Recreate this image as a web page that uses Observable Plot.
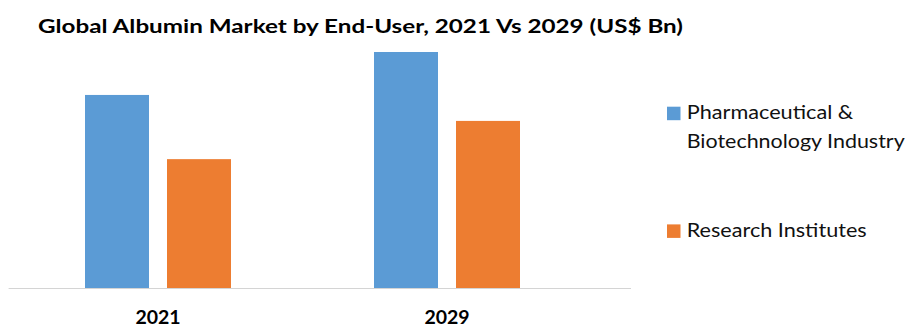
<!DOCTYPE html>
<html><head><meta charset="utf-8">
<script src="https://cdn.jsdelivr.net/npm/d3@7"></script>
<script src="https://cdn.jsdelivr.net/npm/@observablehq/plot@0.6"></script>
<style>
body{margin:0;background:#fff;}
#wrap{position:relative;width:908px;height:327px;overflow:hidden;background:#fff;}
#wrap svg{position:absolute;left:0;top:0;}
</style>
</head><body>
<div id="wrap"></div>
<script>
const years = ["2021", "2029"];
const series = ["Pharmaceutical & Biotechnology Industry", "Research Institutes"];
const pharma = [4.09, 5.0];
const research = [2.73, 3.54];
const colors = ["#5B9BD5", "#ED7D31"];
const title = "Global Albumin Market by End-User, 2021 Vs 2029 (US$ Bn)";
const legendLines = [["Pharmaceutical &", "Biotechnology Industry"], ["Research Institutes"]];

const data = years.flatMap((y, i) => [
  {year: y, series: series[0], value: pharma[i]},
  {year: y, series: series[1], value: research[i]}
]);

const chart = Plot.plot({
  width: 908, height: 327,
  marginTop: 52, marginBottom: 39, marginLeft: 8, marginRight: 278,
  fx: {domain: years, range: [12.4, 591], padding: 0, tickSize: 0, tickPadding: 22, label: null, axis: "bottom"},
  x: {domain: series, axis: null, paddingInner: 0.22, paddingOuter: 0.857},
  y: {domain: [0, 5], axis: null},
  color: {domain: series, range: colors},
  style: {fontFamily: "Lato, sans-serif", fontSize: "19.5px", fontWeight: "bold", color: "#000", background: "transparent", overflow: "visible"},
  marks: [
    Plot.barY(data, {fx: "year", x: "series", y: "value", fill: "series"}),
    Plot.frame({anchor: "bottom", stroke: "#d4d4d4", strokeWidth: 1, facet: "super", insetLeft: -4.4, insetRight: -39})
  ]
});
document.getElementById("wrap").appendChild(chart);

// Title and legend overlay
const svg = d3.select("#wrap").append("svg").attr("width", 908).attr("height", 327)
  .style("font-family", "Lato, sans-serif");
svg.append("text").attr("x", 38).attr("y", 33.3)
  .attr("font-size", 19.5).attr("font-weight", "bold").attr("fill", "#000")
  .attr("textLength", 645).attr("lengthAdjust", "spacingAndGlyphs")
  .text(title);

const legendY = [105, 222.7];
const widths = [[166.6, 218], [180]];
legendLines.forEach((lines, i) => {
  const g = svg.append("g");
  g.append("rect").attr("x", 667).attr("y", legendY[i] + 1.7).attr("width", 13.5).attr("height", 13.5).attr("fill", colors[i]);
  lines.forEach((ln, j) => {
    g.append("text").attr("x", 686.7).attr("y", legendY[i] + 14.3 + j * 29)
      .attr("font-size", 19.5).attr("fill", "#111")
      .attr("textLength", widths[i][j]).attr("lengthAdjust", "spacingAndGlyphs")
      .text(ln);
  });
});
</script>
</body></html>
